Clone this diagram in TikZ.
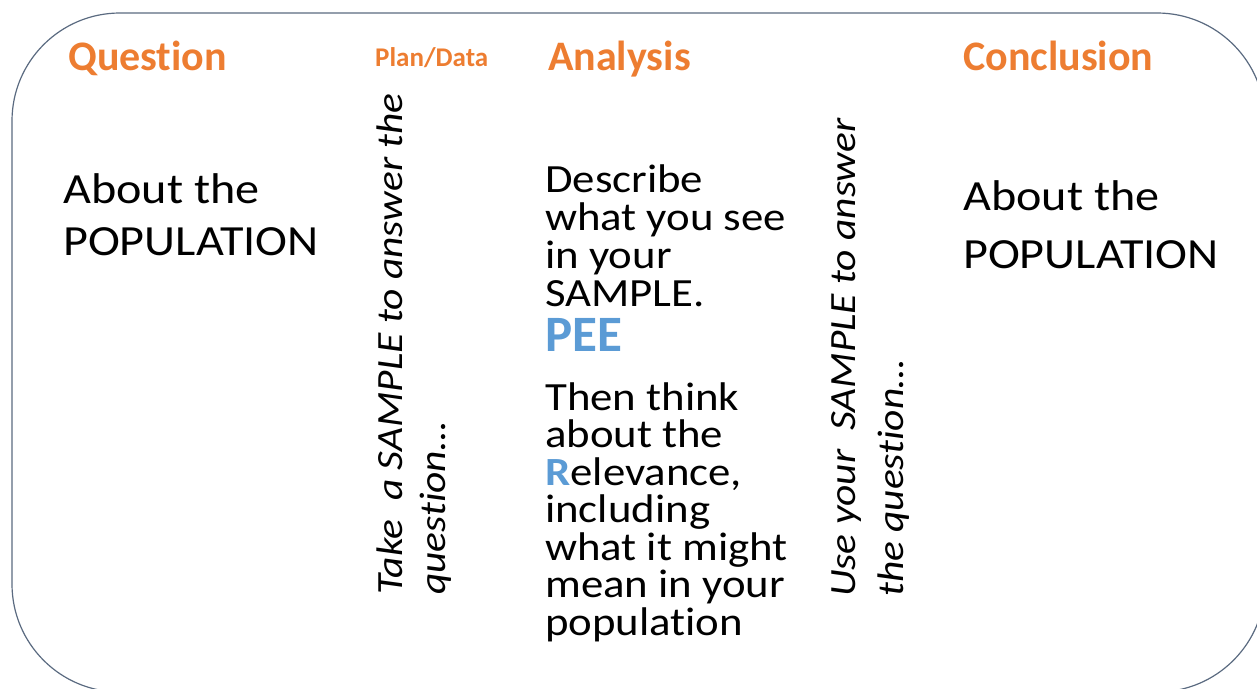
\documentclass[tikz,border=0pt]{standalone}
\usepackage{fontspec}
\setmainfont{Carlito}[Ligatures=CommonOff]
\newfontfamily\bodyfont[FakeStretch=1.12,Ligatures=CommonOff]{Carlito}
\definecolor{hdorange}{HTML}{ED7D31}
\definecolor{peeblue}{HTML}{5B9BD5}
\definecolor{framegray}{HTML}{5A6A80}
\newcommand\stack[2]{\parbox[t]{600pt}{\baselineskip=#1pt\relax #2}}

\begin{document}
\begin{tikzpicture}[x=1pt,y=-1pt]
        % styles %
        \tikzstyle{head} = [anchor=base west, inner sep=0pt, text=hdorange, font=\bfseries\fontsize{42}{50}\selectfont];
        \tikzstyle{body} = [anchor=base west, inner sep=0pt, font=\bodyfont\fontsize{40}{48}\selectfont];
        \tikzstyle{side} = [anchor=base west, inner sep=0pt, rotate=90, font=\bodyfont\itshape\fontsize{37}{44}\selectfont];
        \tikzstyle{pee} = [anchor=base west, inner sep=0pt, text=peeblue, font=\bfseries\fontsize{51}{60}\selectfont];

        \useasboundingbox (0,0) rectangle (1257,688);

        % frame %
        \draw [framegray, line width=1.2pt, rounded corners=108pt] (12,13) rectangle (1265,692);

        % headings %
        \node [head] (question) at (68,70) {Question};
        \node [head, font=\bfseries\fontsize{27}{32}\selectfont] (plandata) at (375,66) {Plan/Data};
        \node [head] (analysis) at (548,70) {Analysis};
        \node [head] (conclusion) at (963,70) {Conclusion};

        % columns %
        \node [body, font=\bodyfont\fontsize{43}{50}\selectfont] (popq) at (63,203)
              {\stack{52}{About the\\POPULATION}};
        \node [side] (take) at (402,595)
              {\stack{43}{Take\ \ a SAMPLE to answer the\\question…}};
        \node [body] (describe) at (545,192)
              {\stack{38}{Describe\\what you see\\in your\\SAMPLE.}};
        \node [pee] (peetag) at (545,351) {PEE};
        \node [body] (relevance) at (545,410)
              {\stack{37.5}{Then think\\about the\\{\bfseries\color{peeblue}R}elevance,\\including\\what it might\\mean in your\\population}};
        \node [side] (use) at (855,597)
              {\stack{48}{Use your\ \ SAMPLE to answer\\the question…}};
        \node [body, font=\bodyfont\fontsize{43}{50}\selectfont] (popc) at (963,210)
              {\stack{58}{About the\\POPULATION}};
\end{tikzpicture}
\end{document}
